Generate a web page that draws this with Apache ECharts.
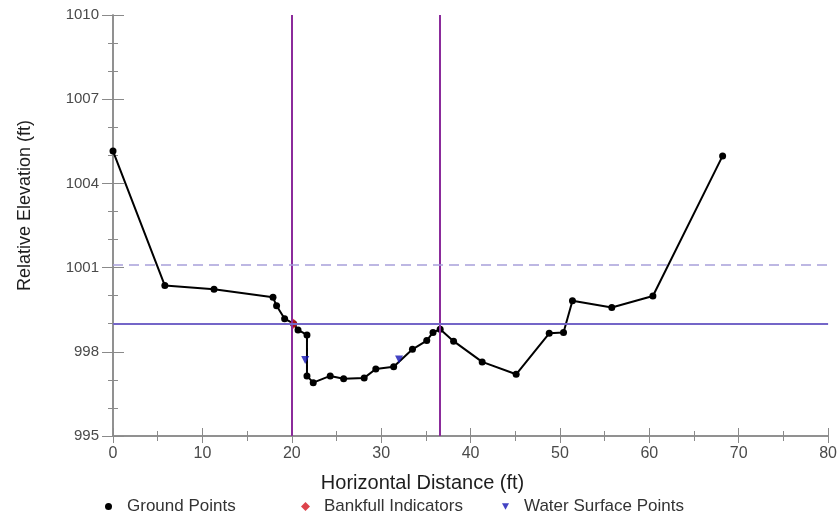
<!DOCTYPE html>
<html>
<head>
<meta charset="utf-8">
<script src="https://cdn.jsdelivr.net/npm/echarts@6/dist/echarts.min.js"></script>
<style>
html,body{margin:0;padding:0;background:#fff;}
#chart{width:840px;height:519px;}
</style>
</head>
<body>
<div id="chart"></div>
<script>
// ---- data ----
const groundX = [0, 5.8, 11.3, 17.9, 18.3, 19.2, 20.2, 20.7, 21.7, 21.7, 22.4, 24.3, 25.8, 28.1, 29.4, 31.4, 33.5, 35.1, 35.8, 36.6, 38.1, 41.3, 45.1, 48.8, 50.4, 51.4, 55.8, 60.4, 68.2];
const groundY = [1005.15, 1000.36, 1000.23, 999.94, 999.64, 999.18, 999.0, 998.78, 998.6, 997.14, 996.9, 997.14, 997.04, 997.07, 997.39, 997.47, 998.09, 998.40, 998.69, 998.80, 998.38, 997.64, 997.20, 998.66, 998.69, 999.82, 999.58, 999.99, 1004.98];
const bankfullX = [20.2];
const bankfullY = [999.0];
const waterX = [21.5, 32.0];
const waterY = [997.71, 997.73];
const bankStations = [20, 36.5];
const bankfullElevation = 999.0;
const floodproneElevation = 1001.1;
const xAxisRange = [0, 80, 10];
const yAxisRange = [995, 1010, 3];
const legendNames = ['Ground Points', 'Bankfull Indicators', 'Water Surface Points'];

const zip = (a, b) => a.map((v, i) => [v, b[i]]);

const axisGrey = '#8a8a8a';
const labelColor = '#4a4a4a';
const font = 'Liberation Sans, Arial, sans-serif';

function xAx(inside, main) {
  return {
    type: 'value', position: 'bottom',
    min: xAxisRange[0], max: xAxisRange[1], interval: xAxisRange[2],
    axisLine: { show: true, lineStyle: { color: axisGrey, width: 1.5 } },
    axisTick: { show: true, inside: inside, length: inside ? 8 : 7, lineStyle: { color: axisGrey, width: 1 } },
    minorTick: { show: true, splitNumber: 2, length: 5, lineStyle: { color: axisGrey, width: 1 } },
    splitLine: { show: false },
    axisLabel: { show: main, margin: 10, fontSize: 16, color: labelColor, fontFamily: font, formatter: v => String(v) },
    name: main ? 'Horizontal Distance (ft)' : '',
    nameLocation: 'middle', nameGap: 37,
    nameTextStyle: { fontSize: 20, color: '#1e1e1e', fontFamily: font, padding: [0, 96, 0, 0] }
  };
}
function yAx(inside, main) {
  return {
    type: 'value', position: 'left',
    min: yAxisRange[0], max: yAxisRange[1], interval: yAxisRange[2],
    axisLine: { show: true, lineStyle: { color: axisGrey, width: 1.5 } },
    axisTick: { show: true, inside: inside, length: 11, lineStyle: { color: axisGrey, width: 1 } },
    minorTick: { show: true, splitNumber: 3, length: 5, lineStyle: { color: axisGrey, width: 1 } },
    splitLine: { show: false },
    axisLabel: { show: main, margin: 14, fontSize: 15, color: labelColor, fontFamily: font, formatter: v => String(v) },
    name: main ? 'Relative Elevation (ft)' : '',
    nameLocation: 'middle', nameGap: 79,
    nameTextStyle: { fontSize: 18, color: '#1e1e1e', fontFamily: font, padding: [0, 0, 0, 40] }
  };
}

function legendAt(name, left, icon, size) {
  const item = icon ? { name: name, icon: icon } : { name: name };
  const pad = 10 - (size - 7) / 2;
  return {
    data: [item], left: left, top: 498, itemWidth: size, itemHeight: size,
    padding: 0,
    textStyle: { fontSize: 17, color: '#333', fontFamily: font, padding: [0, 0, 0, pad] }
  };
}

const chart = echarts.init(document.getElementById('chart'), null, { renderer: 'canvas' });
chart.setOption({
  animation: false,
  backgroundColor: '#fff',
  grid: { left: 113, right: 10, top: 15, bottom: 83, containLabel: false },
  xAxis: [xAx(false, true), xAx(true, false)],
  yAxis: [yAx(false, true), yAx(true, false)],
  legend: [
    legendAt(legendNames[0], 105, 'circle', 7),
    legendAt(legendNames[1], 301, 'diamond', 9),
    legendAt(legendNames[2], 502, 'path://M0,0L10,0L5,9Z', 7)
  ],
  series: [
    {
      name: 'reference lines', type: 'line', xAxisIndex: 0, yAxisIndex: 0,
      data: [], z: 1, silent: true,
      markLine: {
        silent: true, symbol: 'none', label: { show: false },
        animation: false,
        data: [
          { xAxis: bankStations[0], lineStyle: { color: '#8B2B9B', width: 2, type: 'solid' } },
          { xAxis: bankStations[1], lineStyle: { color: '#8B2B9B', width: 2, type: 'solid' } },
          { yAxis: bankfullElevation, lineStyle: { color: '#7466C8', width: 2, type: 'solid' } },
          { yAxis: floodproneElevation, lineStyle: { color: '#A8A0DA', width: 1.5, type: [10, 6] } }
        ]
      }
    },
    {
      name: legendNames[0], type: 'line', xAxisIndex: 0, yAxisIndex: 0,
      data: zip(groundX, groundY),
      symbol: 'circle', symbolSize: 7, showAllSymbol: true,
      itemStyle: { color: '#000' },
      lineStyle: { color: '#000', width: 2 },
      z: 3
    },
    {
      name: legendNames[1], type: 'scatter', xAxisIndex: 0, yAxisIndex: 0,
      data: zip(bankfullX, bankfullY),
      symbol: 'diamond', symbolSize: [9, 10],
      itemStyle: { color: '#D4141E' }, z: 4
    },
    {
      name: legendNames[2], type: 'scatter', xAxisIndex: 0, yAxisIndex: 0,
      data: zip(waterX, waterY),
      symbol: 'triangle', symbolRotate: 180, symbolSize: 8,
      itemStyle: { color: '#1414B4' }, z: 4
    }
  ]
});
</script>
</body>
</html>
